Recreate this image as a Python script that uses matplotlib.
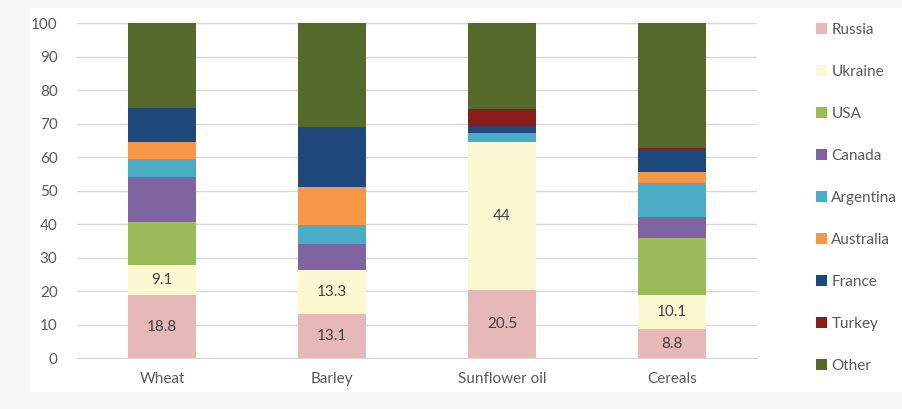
import numpy as np
import matplotlib.pyplot as plt
from matplotlib.patches import Rectangle

plt.rcParams['font.family'] = ['Lato', 'DejaVu Sans']

# Share of world exports, %
products = ["Wheat", "Barley", "Sunflower oil", "Cereals"]
countries = ["Russia", "Ukraine", "USA", "Canada", "Argentina",
             "Australia", "France", "Turkey", "Other"]
russia = [18.8, 13.1, 20.5, 8.8]
ukraine = [9.1, 13.3, 44.0, 10.1]
usa = [12.9, 0.0, 0.0, 17.1]
canada = [13.4, 7.6, 0.0, 6.3]
argentina = [5.2, 5.8, 2.8, 10.1]
australia = [5.3, 11.3, 0.0, 3.1]
france = [9.9, 18.0, 2.0, 6.6]
turkey = [0.0, 0.0, 5.0, 0.6]
other = [25.4, 30.9, 25.7, 37.3]
labelled = ["Russia", "Ukraine"]  # only these carry value labels

series = [russia, ukraine, usa, canada, argentina, australia, france, turkey, other]
colors = ["#e6b9b8", "#fcf9d2", "#9bbb59", "#8064a2", "#4bacc6",
          "#f79646", "#1f497d", "#8b1c1c", "#55692b"]

fig = plt.figure(figsize=(9.02, 4.09), dpi=100, facecolor="#f6f6f4")
fig.patches.append(Rectangle((30 / 902, 17 / 409), 1.0, 384 / 409,
                             transform=fig.transFigure, facecolor="white",
                             edgecolor="none", zorder=-10))
ax = fig.add_axes([77 / 902, 50.7 / 409, 680 / 902, 335 / 409])
ax.set_facecolor("none")

x = np.arange(len(products))
bottom = np.zeros(len(products))
for name, vals, col in zip(countries, series, colors):
    vals = np.array(vals)
    bars = ax.bar(x, vals, 0.4, bottom=bottom, color=col, label=name, zorder=2)
    if name in labelled:
        ax.bar_label(bars, labels=[f"{v:g}" for v in vals], label_type="center",
                     fontsize=11, color="#404040")
    bottom += vals

ax.set_xlim(-0.5, 3.5)
ax.set_ylim(0, 100)
ax.set_yticks(range(0, 101, 10))
ax.set_xticks(x)
ax.set_xticklabels(products)
ax.grid(axis="y", color="#d9d9d9", linewidth=1, zorder=0)
for s in ["top", "right", "left"]:
    ax.spines[s].set_visible(False)
ax.spines["bottom"].set_color("#d9d9d9")
ax.tick_params(length=0, labelsize=11, colors="#595959")
ax.tick_params(axis="y", pad=14)
ax.tick_params(axis="x", pad=10)

fig.legend(loc="upper left", bbox_to_anchor=(810 / 902, 1 - 17 / 409),
           frameon=False, fontsize=11, labelcolor="#595959",
           handlelength=0.7, handleheight=0.7, handletextpad=0.3,
           labelspacing=1.83, borderaxespad=0)

fig.savefig("out.png", dpi=100, facecolor=fig.get_facecolor())
